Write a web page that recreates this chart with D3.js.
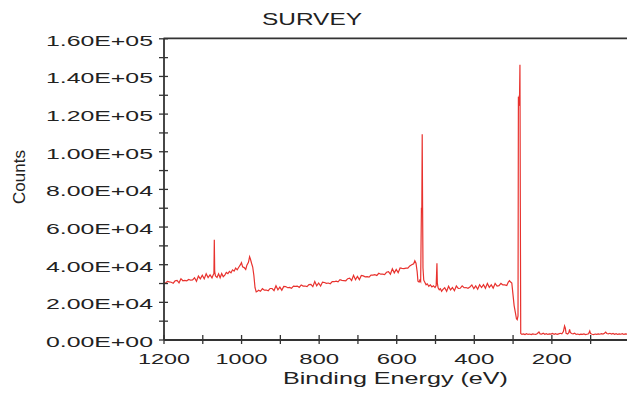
<!DOCTYPE html>
<html>
<head>
<meta charset="utf-8">
<script src="https://cdn.jsdelivr.net/npm/d3@7"></script>
<style>
  body { margin: 0; background: #fff; }
  svg { display: block; }
</style>
</head>
<body>
<script>
// XPS survey spectrum (counts vs binding energy)

const energy = [
  1200, 1195, 1190, 1185, 1180, 1175, 1170, 1165, 1160, 1155, 1150, 1145, 1140, 1135, 1130, 1125, 1120,
  1115, 1110, 1105, 1100, 1095, 1090, 1085, 1080, 1075,
  1072, 1070, 1069, 1068, 1066, 1062, 1058, 1054, 1050, 1046, 1042, 1038, 1034, 1030, 1026, 1022, 1018,
  1014, 1010, 1006, 1002, 999, 996, 992, 988, 985, 981, 978, 976, 973, 970, 967, 964, 961, 957,
  955, 950, 945, 940, 935, 930, 925, 920, 915, 910, 905, 900, 895, 890, 885, 880, 875, 870, 865, 860,
  855, 850, 845, 840, 835, 830, 825, 820, 815, 810, 805, 800, 795, 790, 785, 780, 775, 770, 765, 760,
  755, 750, 745, 740, 735, 730, 725, 720, 715, 710, 705, 700, 695, 690, 685, 680, 675, 670, 665, 660,
  655, 650, 645, 640, 635, 630, 625, 620, 615, 610, 605, 600, 595, 590, 585, 580, 575, 570, 565, 560,
  555, 552, 549,
  546, 544, 541, 539, 537, 535, 534, 533, 532, 531, 529, 526, 523, 520, 516, 512, 508, 504, 500, 497,
  495, 494, 492, 489, 486, 483, 480,
  475, 470, 465, 460, 455, 450, 445, 440, 435, 430, 425, 420, 415, 410, 405, 400, 395, 390, 385, 380,
  375, 370, 365, 360, 355, 350, 345, 340, 335, 330, 325, 320, 315, 311, 308, 305, 302, 299, 296, 293,
  290, 288, 286, 285, 284, 283, 282, 281, 280, 279, 276,
  272, 268, 264, 260, 256, 252, 248, 244, 240, 236, 232, 229, 225, 221, 217, 213, 209, 205, 201, 197,
  193, 189, 185, 181, 177, 173, 169, 166, 164, 162, 158, 155, 153, 151, 148, 144, 140, 136, 132, 128,
  124, 120, 116, 112, 108, 104, 101, 99, 95, 91, 87, 83, 79, 75, 71, 67, 63, 60, 57, 53,
  49, 45, 41, 37, 33, 29, 25, 21, 17, 13, 9, 5
];

const counts = [
  30100, 29900, 30900, 30600, 30400, 29900, 31200, 31400, 30100, 32300, 31200, 31400, 31200, 31900, 31500, 31700, 32800,
  30900, 33700, 32200, 34100, 32200, 34900, 32900, 34300, 32700,
  34300, 35000, 53000, 36000, 33800, 33000, 34900, 32800, 35100, 33400, 34200, 35600, 35000, 36200, 35400, 37000, 36300,
  37900, 37000, 38400, 39600, 40800, 38600, 38200, 37200, 39500, 41000, 44000, 42800, 40500, 38500, 34000, 27500, 25300, 25800,
  26200, 25600, 27000, 26200, 26300, 25900, 27100, 27100, 26000, 28600, 26400, 27800, 26200, 28200, 28100, 27500, 27700, 27200, 28400, 28200,
  28400, 27700, 29000, 28400, 28400, 28100, 29200, 29300, 28100, 30800, 28500, 30000, 28400, 30500, 30300, 29800, 30000, 29600, 30700, 30700,
  31000, 30600, 31800, 31400, 31300, 31200, 32300, 32600, 31300, 34100, 31800, 33500, 31800, 34000, 33800, 33300, 33400, 33100, 34200, 34200,
  34400, 34000, 35200, 34700, 34700, 34500, 35700, 36000, 34700, 37600, 35400, 37200, 35500, 38000, 37800, 37700, 37900, 37900, 39100, 39700,
  40200, 41800, 40500,
  36000, 31000, 30500, 31500, 30800, 70000, 69000, 109000, 70000, 38000, 31500, 30300, 29100, 29600, 28300, 29000, 27900, 28500, 27600, 28700,
  40500, 30000, 27500, 26400, 27000, 25600, 26500,
  27500, 25600, 28300, 26300, 27600, 25900, 28400, 27100, 27200, 28500, 27500, 27600, 27200, 27900, 29000, 27000, 28500, 26700, 29100, 27600,
  29100, 27200, 29800, 27700, 29000, 27300, 29800, 28400, 28600, 29800, 29000, 29000, 28700, 30500, 31200, 30500, 30000, 24000, 18000, 14500,
  11000, 10500, 12500, 129000, 124000, 129000, 130000, 146000, 70000, 3200, 2700,
  3000, 2600, 3100, 2700, 2900, 2600, 3000, 2800, 2700, 3200, 4000, 3000, 2900, 3300, 2800, 3100, 2700, 3000, 2900, 3200,
  2800, 3100, 2700, 3000, 3300, 3000, 4200, 7200, 6000, 3300, 2900, 3600, 5400, 3700, 3200, 3000, 3300, 2700, 2900, 2600,
  2800, 2700, 3000, 2600, 2800, 3000, 4500, 3100, 2800, 2600, 2900, 2700, 3000, 2800, 3100, 2900, 3300, 3900, 3200, 3000,
  3300, 2900, 3200, 2800, 3100, 2700, 3000, 2800, 3100, 2700, 3000, 2800
];

const xMajor = [1200, 1000, 800, 600, 400, 200];
const xMinor = [1100, 900, 700, 500, 300, 100];
const yMajor = [0, 20000, 40000, 60000, 80000, 100000, 120000, 140000, 160000];
const yMinor = [10000, 30000, 50000, 70000, 90000, 110000, 130000, 150000];
const yTickLabels = ["0.00E+00", "2.00E+04", "4.00E+04", "6.00E+04", "8.00E+04",
                     "1.00E+05", "1.20E+05", "1.40E+05", "1.60E+05"];

const breedde = 627, hoejde = 393;
const margin = { top: 38.3, right: 0, bottom: 53.5, left: 163.5 };
const axisColor = "#333";
const font = "'Liberation Sans', Arial, sans-serif";

const svg = d3.select("body").append("svg")
  .attr("width", breedde)
  .attr("height", hoejde);

const x = d3.scaleLinear()
  .domain([1200, 5])
  .range([margin.left, breedde - margin.right]);

const y = d3.scaleLinear()
  .domain([0, 160000])
  .range([hoejde - margin.bottom, margin.top]);

// spektrum-linjen
const line = d3.line()
  .x((d, i) => x(energy[i]))
  .y(d => y(d));

svg.append("path")
  .datum(counts)
  .attr("fill", "none")
  .attr("stroke", "#e8322e")
  .attr("stroke-width", 1.2)
  .attr("d", line);

// y-akse
const yAxis = svg.append("g")
  .attr("transform", `translate(${margin.left},0)`)
  .call(d3.axisLeft(y).tickValues(yMajor).tickFormat((d, i) => yTickLabels[i]).tickSizeOuter(0));

svg.append("g")
  .attr("class", "minor")
  .attr("transform", `translate(${margin.left},0)`)
  .call(d3.axisLeft(y).tickValues(yMinor).tickFormat("").tickSizeOuter(0))
  .select(".domain").remove();

// x-akse
const xAxis = svg.append("g")
  .attr("transform", `translate(0,${y(0)})`)
  .call(d3.axisBottom(x).tickValues(xMajor).tickFormat(d3.format("d")).tickSizeOuter(0));

svg.append("g")
  .attr("class", "minor")
  .attr("transform", `translate(0,${y(0)})`)
  .call(d3.axisBottom(x).tickValues(xMinor).tickFormat("").tickSizeOuter(0))
  .select(".domain").remove();

// ticks krydser aksen
svg.selectAll(".tick line").attr("stroke", axisColor).attr("stroke-width", 1.3);
yAxis.selectAll(".tick line").attr("x1", 4.5).attr("x2", -4.5);
svg.selectAll(".minor .tick line").filter(function() { return this.getAttribute("x2") !== null; })
  .attr("x1", 4.5).attr("x2", -4.5);
xAxis.selectAll(".tick line").attr("y1", -4.5).attr("y2", 4.5);
svg.selectAll(".minor .tick line").filter(function() { return this.getAttribute("y2") !== null; })
  .attr("y1", -4.5).attr("y2", 4.5);

svg.selectAll(".domain").attr("stroke", axisColor).attr("stroke-width", 1.8);

yAxis.selectAll(".tick text")
  .attr("x", -10.5)
  .attr("dy", null)
  .attr("y", 6.8)
  .attr("fill", "#222")
  .style("font-family", font)
  .style("font-size", "15px")
  .attr("textLength", 107)
  .attr("lengthAdjust", "spacingAndGlyphs");

xAxis.selectAll(".tick text")
  .attr("y", 24.5)
  .attr("dy", null)
  .attr("fill", "#222")
  .style("font-family", font)
  .style("font-size", "15px")
  .attr("textLength", d => d >= 1000 ? 52 : 40)
  .attr("lengthAdjust", "spacingAndGlyphs");

// topramme
svg.append("line")
  .attr("x1", x(1200)).attr("x2", x(5))
  .attr("y1", y(160000)).attr("y2", y(160000))
  .attr("stroke", axisColor)
  .attr("stroke-width", 1.8);

// titel og aksetitler
svg.append("text")
  .attr("x", 312).attr("y", 25)
  .attr("text-anchor", "middle")
  .attr("fill", "#222")
  .style("font-family", font)
  .style("font-size", "16px")
  .attr("textLength", 100)
  .attr("lengthAdjust", "spacingAndGlyphs")
  .text("SURVEY");

svg.append("text")
  .attr("x", 395.5).attr("y", 384)
  .attr("text-anchor", "middle")
  .attr("fill", "#222")
  .style("font-family", font)
  .style("font-size", "17px")
  .attr("textLength", 225)
  .attr("lengthAdjust", "spacingAndGlyphs")
  .text("Binding Energy (eV)");

svg.append("text")
  .attr("transform", "translate(25,177) rotate(-90)")
  .attr("text-anchor", "middle")
  .attr("fill", "#222")
  .style("font-family", font)
  .style("font-size", "17px")
  .text("Counts");
</script>
</body>
</html>
